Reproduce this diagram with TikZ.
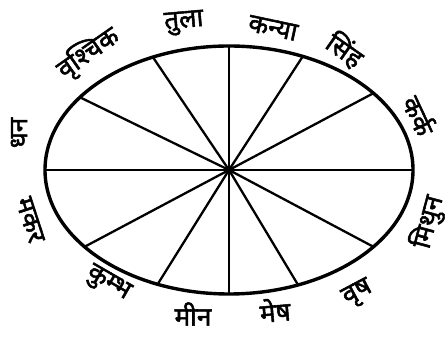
\documentclass[tikz,border=0pt]{standalone}
\usepackage{fontspec}
\newfontfamily\hindi[Script=Devanagari, FakeBold=2]{Noto Sans}
\usepackage{tikz}
\usetikzlibrary{calc}
\tikzstyle{rim} = [line width=3.4pt]
\tikzstyle{spoke} = [line width=2.3pt]
\tikzstyle{rashi} = [inner sep=0pt, font=\hindi\bfseries\fontsize{26}{26}\selectfont]

\begin{document}
\begin{tikzpicture}[x=1pt, y=1pt]

  \useasboundingbox (0, 0) rectangle (447, 339);

  % Wheel
  \coordinate (hub) at (229, 169);
  \draw[rim] (hub) ellipse [x radius=184, y radius=124];

  % Spokes
  \foreach \a [count=\i] in {90, 57, 28, 0, -28, -59, -90, -122, -152, 180, 154, 124} {
    \pgfmathsetmacro\t{atan2(184*sin(\a), 124*cos(\a))}
    \coordinate (s\i) at ($(hub)+(\t:184 and 124)$);
    \draw[spoke] (hub) -- (s\i);
  }

  % Signs
  \node[rashi, rotate=5] (tula) at (184, 316) {तुला};
  \node[rashi, rotate=-12] (kanya) at (273, 311) {कन्या};
  \node[rashi, rotate=-35] (simha) at (345, 289) {सिंह};
  \node[rashi, rotate=-65] (karka) at (420, 224) {कर्क};
  \node[rashi, rotate=75] (mithun) at (428, 117) {मिथुन};
  \node[rashi, rotate=28] (vrish) at (358, 45) {वृष};
  \node[rashi, rotate=5] (mesh) at (275, 29) {मेष};
  \node[rashi] (meen) at (193, 25) {मीन};
  \node[rashi, rotate=-30] (kumbh) at (108, 55) {कुम्भ};
  \node[rashi, rotate=-72] (makar) at (30, 119) {मकर};
  \node[rashi, rotate=90] (dhanu) at (19, 206) {धन};
  \node[rashi, rotate=35] (vrishchik) at (88, 286) {वृश्चिक};

\end{tikzpicture}
\end{document}
